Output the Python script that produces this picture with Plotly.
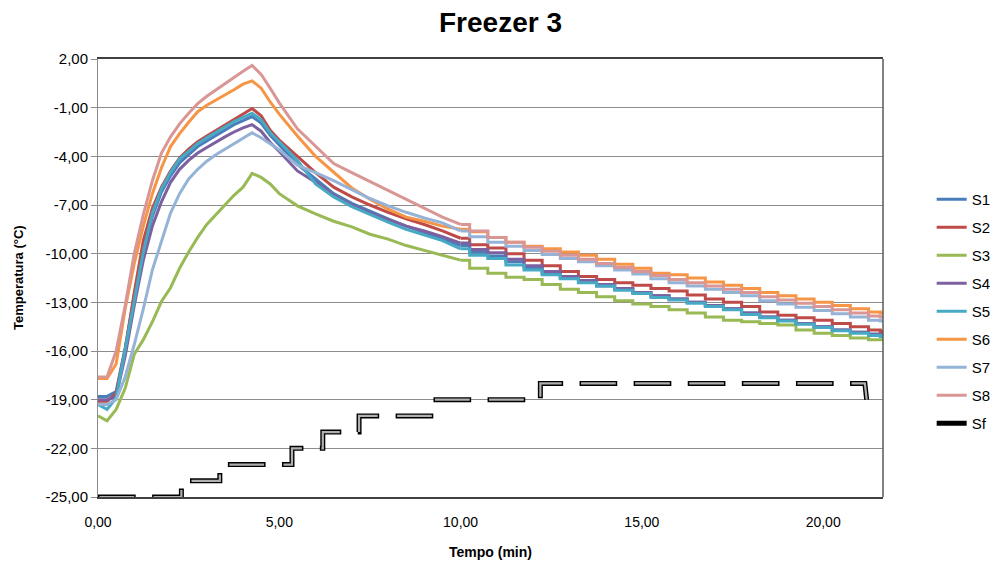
import plotly.graph_objects as go

# ---------------- data ----------------
t = [0, 0.25, 0.5, 0.75, 1.0, 1.25, 1.5, 1.75, 2.0, 2.25, 2.5, 2.75, 3.0, 3.25, 3.5, 3.75,
     4.0, 4.25, 4.5, 4.75, 5.0, 5.5, 6.0, 6.5, 7.0, 7.5, 8.0, 8.5, 9.0, 9.5, 10.0, 10.5,
     11.0, 11.5, 12.0, 12.5, 13.0, 13.5, 14.0, 14.5, 15.0, 15.5, 16.0, 16.5, 17.0, 17.5,
     18.0, 18.5, 19.0, 19.5, 20.0, 20.5, 21.0, 21.5, 21.65]

s1 = [-18.8, -18.8, -18.5, -15.8, -12.6, -9.9, -7.7, -6.2, -5.2, -4.4, -3.9, -3.4, -3.05, -2.7, -2.4, -2.05,
      -1.8, -1.55, -1.95, -2.7, -3.3, -4.5, -5.4, -6.3, -6.9, -7.4, -7.85, -8.3, -8.7, -9.05, -9.5, -9.9,
      -10.15, -10.5, -10.85, -11.2, -11.5, -11.75, -12.0, -12.2, -12.4, -12.6, -12.8, -13.0, -13.2, -13.4,
      -13.65, -13.9, -14.1, -14.3, -14.5, -14.7, -14.85, -14.95, -15.0]
s2 = [-19.1, -19.1, -18.6, -15.9, -12.4, -9.2, -7.2, -5.9, -4.9, -4.1, -3.55, -3.1, -2.75, -2.4, -2.05, -1.75,
      -1.4, -1.05, -1.5, -2.4, -3.0, -4.0, -5.0, -5.9, -6.5, -7.0, -7.45, -7.85, -8.2, -8.6, -9.05, -9.45,
      -9.65, -10.0, -10.4, -10.75, -11.1, -11.4, -11.6, -11.8, -11.95, -12.15, -12.3, -12.55, -12.8, -13.0,
      -13.25, -13.6, -13.8, -13.95, -14.1, -14.3, -14.5, -14.7, -14.8]
s3 = [-20.0, -20.3, -19.6, -18.3, -16.2, -15.3, -14.2, -12.95, -12.1, -10.9, -9.9, -9.0, -8.2, -7.6, -7.0, -6.4,
      -5.9, -5.05, -5.3, -5.7, -6.3, -7.05, -7.55, -8.0, -8.35, -8.8, -9.1, -9.5, -9.8, -10.1, -10.4, -10.9,
      -11.2, -11.45, -11.6, -11.9, -12.2, -12.4, -12.65, -12.9, -13.1, -13.25, -13.45, -13.65, -13.9, -14.1,
      -14.2, -14.3, -14.4, -14.7, -14.9, -15.05, -15.2, -15.3, -15.3]
s4 = [-19.0, -19.0, -18.8, -16.3, -13.2, -10.4, -8.3, -6.8, -5.6, -4.8, -4.25, -3.8, -3.45, -3.1, -2.8, -2.5,
      -2.25, -2.05, -2.45, -3.15, -3.7, -4.9, -5.6, -6.4, -7.0, -7.5, -7.9, -8.3, -8.6, -8.95, -9.35, -9.75,
      -9.95, -10.35, -10.75, -11.1, -11.4, -11.65, -11.9, -12.15, -12.4, -12.6, -12.8, -13.0, -13.2, -13.4,
      -13.65, -13.9, -14.1, -14.3, -14.5, -14.7, -14.85, -15.0, -15.0]
s5 = [-19.3, -19.6, -18.9, -15.9, -12.7, -9.9, -7.5, -6.0, -5.0, -4.15, -3.7, -3.2, -2.85, -2.5, -2.2, -1.85,
      -1.6, -1.35, -1.75, -2.55, -3.1, -4.25, -5.7, -6.5, -7.1, -7.6, -8.05, -8.5, -8.85, -9.2, -9.7, -10.1,
      -10.3, -10.7, -11.0, -11.3, -11.55, -11.8, -12.0, -12.25, -12.45, -12.7, -12.85, -13.05, -13.25, -13.45,
      -13.75, -13.95, -14.15, -14.35, -14.55, -14.75, -14.9, -15.05, -15.1]
s6 = [-17.7, -17.7, -16.8, -13.4, -10.6, -8.3, -6.3, -4.7, -3.4, -2.6, -1.9, -1.25, -0.85, -0.55, -0.25, 0.1,
      0.45, 0.65, 0.2, -0.65, -1.4, -2.75, -4.0, -5.0, -5.95, -6.65, -7.25, -7.75, -8.0, -8.3, -8.5, -8.65,
      -9.0, -9.3, -9.55, -9.7, -9.9, -10.1, -10.35, -10.65, -10.9, -11.2, -11.3, -11.5, -11.75, -11.95,
      -12.15, -12.4, -12.6, -12.8, -13.0, -13.2, -13.4, -13.6, -13.65]
s7 = [-19.3, -19.3, -19.0, -17.6, -15.6, -13.4, -11.0, -9.2, -7.5, -6.3, -5.4, -4.8, -4.3, -3.9, -3.55, -3.2,
      -2.9, -2.55, -2.85, -3.2, -3.6, -4.55, -5.0, -5.5, -6.05, -6.6, -7.05, -7.45, -7.8, -8.1, -8.6, -8.95,
      -9.3, -9.55, -9.8, -10.05, -10.3, -10.5, -10.75, -11.0, -11.25, -11.55, -11.8, -12.0, -12.2, -12.4,
      -12.6, -12.9, -13.1, -13.3, -13.5, -13.7, -13.9, -14.1, -14.15]
s8 = [-17.6, -17.6, -16.0, -13.2, -10.0, -7.6, -5.5, -3.8, -2.8, -2.0, -1.35, -0.75, -0.3, 0.1, 0.5, 0.9,
      1.25, 1.6, 1.05, 0.2, -0.7, -2.3, -3.4, -4.45, -5.0, -5.55, -6.15, -6.7, -7.25, -7.75, -8.2, -8.6,
      -9.0, -9.3, -9.6, -9.85, -10.1, -10.35, -10.6, -10.85, -11.1, -11.35, -11.6, -11.8, -12.0, -12.2,
      -12.4, -12.65, -12.85, -13.05, -13.25, -13.45, -13.65, -13.85, -13.9]

sf_t = [0, 2.3, 2.3, 3.36, 3.36, 5.35, 5.35, 6.2, 6.2, 7.2, 7.2, 9.25, 9.25, 12.2, 12.2, 21.15, 21.2]
sf_v = [-25, -25, -24, -24, -23, -23, -22, -22, -21, -21, -20, -20, -19, -19, -18, -18, -19]

series_names = ["S1", "S2", "S3", "S4", "S5", "S6", "S7", "S8"]
series_vals = [s1, s2, s3, s4, s5, s6, s7, s8]
series_colors = ["#4A7EBB", "#BE4B48", "#98B954", "#7D60A0", "#46AAC5", "#F69545", "#95B3D7", "#D99694"]

y_tickvals = [2, -1, -4, -7, -10, -13, -16, -19, -22, -25]
y_ticktext = ["2,00", "-1,00", "-4,00", "-7,00", "-10,00", "-13,00", "-16,00", "-19,00", "-22,00", "-25,00"]
x_tickvals = [0, 5, 10, 15, 20]
x_ticktext = ["0,00", "5,00", "10,00", "15,00", "20,00"]

FONT = "Liberation Sans, Arial, sans-serif"
SPLIT = t.index(10.0)  # faster part drawn as a line, slow cooling tail drawn as sensor steps

fig = go.Figure()
for name, vals, col in zip(series_names, series_vals, series_colors):
    fig.add_trace(go.Scatter(x=t[:SPLIT + 1], y=vals[:SPLIT + 1], mode="lines", name=name,
                             legendgroup=name, line=dict(color=col, width=3)))
    fig.add_trace(go.Scatter(x=t[SPLIT:], y=vals[SPLIT:], mode="lines", name=name,
                             legendgroup=name, showlegend=False,
                             line=dict(color=col, width=3, shape="hvh")))

fig.add_trace(go.Scatter(x=sf_t, y=sf_v, mode="lines", name="Sf", legendgroup="Sf",
                         line=dict(color="#000000", width=5, dash="37.7px,16.4px")))
fig.add_trace(go.Scatter(x=sf_t, y=sf_v, mode="lines", name="Sf", legendgroup="Sf", showlegend=False,
                         line=dict(color="#B0B0B0", width=2.2, dash="0px,1.5px,34.7px,17.9px")))

fig.update_layout(
    width=993, height=564,
    margin=dict(l=98, r=110, t=59, b=67, autoexpand=False),
    paper_bgcolor="white", plot_bgcolor="white",
    font=dict(family=FONT, size=14, color="#000000"),
    title=dict(text="<b>Freezer 3</b>", x=0.504, xref="container", y=0.96, yref="container",
               xanchor="center", yanchor="middle", font=dict(family=FONT, size=28, color="#000")),
    showlegend=True,
    legend=dict(x=1.062, xanchor="left", y=0.717, yanchor="top", traceorder="grouped",
                tracegroupgap=5.5, font=dict(family=FONT, size=15), bgcolor="rgba(0,0,0,0)"),
    xaxis=dict(range=[0, 21.65], tickvals=x_tickvals, ticktext=x_ticktext, showgrid=False,
               zeroline=False, showline=True, linecolor="#404040", linewidth=1.5, mirror=True,
               ticks="outside", ticklen=11, tickcolor="rgba(0,0,0,0)",
               tickfont=dict(family=FONT, size=14)),
    yaxis=dict(range=[-25, 2], tickvals=y_tickvals, ticktext=y_ticktext, showgrid=True,
               gridcolor="#8C8C8C", gridwidth=1, zeroline=False, showline=True, linecolor="#8C8C8C",
               linewidth=1, ticks="outside", ticklen=6, tickcolor="#8C8C8C",
               tickfont=dict(family=FONT, size=15)),
    annotations=[
        dict(text="<b>Temperatura (°C)</b>", xref="paper", yref="paper", x=-0.1019, y=0.5,
             xanchor="center", yanchor="middle", textangle=-90, showarrow=False,
             font=dict(family=FONT, size=13)),
        dict(text="<b>Tempo (min)</b>", xref="paper", yref="paper", x=0.5, y=-0.1256,
             xanchor="center", yanchor="middle", showarrow=False,
             font=dict(family=FONT, size=14)),
    ],
    shapes=[dict(type="line", xref="paper", yref="paper", x0=1, x1=1, y0=0, y1=1,
                 line=dict(color="#595959", width=1.5))],
)

fig.write_html("out.html")
